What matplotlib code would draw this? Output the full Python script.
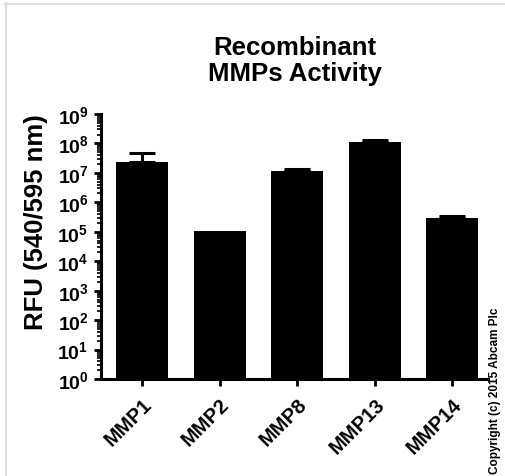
import numpy as np
import matplotlib
matplotlib.use("Agg")
import matplotlib.pyplot as plt
from matplotlib.lines import Line2D
from matplotlib.ticker import LogLocator, FixedLocator, FuncFormatter, NullFormatter

plt.rcParams["font.family"] = ["Liberation Sans", "DejaVu Sans"]
plt.rcParams["mathtext.fontset"] = "custom"
plt.rcParams["mathtext.rm"] = "Liberation Sans:bold"
plt.rcParams["mathtext.bf"] = "Liberation Sans:bold"

# data
enzymes   = ["MMP1", "MMP2", "MMP8", "MMP13", "MMP14"]
rfu_mean  = [2.3e7, 1.1e5, 1.13e7, 1.15e8, 2.95e5]
rfu_err   = [2.5e7, np.nan, 1.8e6, 1.2e7,  5.5e4]
title     = "Recombinant\nMMPs Activity"
ylabel    = "RFU (540/595 nm)"
copyright = "Copyright (c) 2015 Abcam Plc"

W, H = 506, 477
fig = plt.figure(figsize=(W / 100, H / 100), dpi=100)
ax = fig.add_axes([101 / W, 1 - 380 / H, 387 / W, 265 / H])

x = np.arange(len(enzymes))
ax.bar(x, rfu_mean, width=0.67, color="black", bottom=1, zorder=2)
has_err = ~np.isnan(rfu_err)
err = np.array(rfu_err)[has_err]
ax.errorbar(x[has_err], np.array(rfu_mean)[has_err], yerr=[np.zeros(len(err)), err],
            fmt="none", ecolor="black", elinewidth=2.2, capsize=9.4, capthick=2.2, zorder=3)

ax.set_yscale("log")
ax.set_ylim(1, 1e9)
ax.set_xlim(-0.53, 4.46)

ax.yaxis.set_major_locator(FixedLocator([10.0 ** k for k in range(10)]))
ax.yaxis.set_major_formatter(FuncFormatter(lambda v, p: r"$\mathbf{10^{%d}}$" % round(np.log10(v))))
ax.yaxis.set_minor_locator(LogLocator(base=10, subs=np.arange(2, 10), numticks=20))
ax.yaxis.set_minor_formatter(NullFormatter())

ax.set_xticks(x)
ax.set_xticklabels(enzymes, rotation=45, ha="right", va="top", rotation_mode="anchor",
                   fontsize=14.5, fontweight="bold")

for s in ["top", "right"]:
    ax.spines[s].set_visible(False)
for s in ["left", "bottom"]:
    ax.spines[s].set_linewidth(2.2)

ax.tick_params(axis="y", which="major", length=5, width=2, labelsize=14, pad=4)
ax.tick_params(axis="y", which="minor", length=3, width=1.2)
ax.tick_params(axis="x", which="major", length=5, width=2, pad=6)

ax.set_ylabel(ylabel, fontsize=18.5, fontweight="bold")
ax.yaxis.set_label_coords(-0.138, 0.596)

fig.text(295 / W, 1 - 36 / H, title, ha="center", va="top", fontsize=18.5,
         fontweight="bold", linespacing=1.1)
fig.text(495 / W, 1 - 391 / H, copyright, rotation=90, ha="center", va="center",
         fontsize=8.5, fontweight="bold")

# light grey frame along the top and left edge
fig.add_artist(Line2D([5 / W, 1], [1 - 5 / H, 1 - 5 / H], transform=fig.transFigure,
                      color="#dddddd", linewidth=1.6))
fig.add_artist(Line2D([6 / W, 6 / W], [0, 1 - 4 / H], transform=fig.transFigure,
                      color="#dddddd", linewidth=1.6))

fig.savefig("out.png", dpi=100)
